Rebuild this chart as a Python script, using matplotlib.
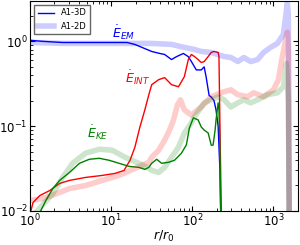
import numpy as np
import matplotlib
matplotlib.use('Agg')
import matplotlib.pyplot as plt

# A1-3D (thin lines)
b3_r = [1.0, 1.44, 2.53, 7.77, 15.7, 19.6, 23.9, 31.6, 39.6, 45.6, 55.5, 63.8, 77.6, 89.3, 97.2,
        112, 129, 140, 148, 161, 171, 185, 196, 208, 219, 226]
b3_y = [1.03, 1.0, 0.97, 0.97, 0.97, 0.92, 0.85, 0.76, 0.72, 0.70, 0.61, 0.66, 0.72, 0.66, 0.58,
        0.46, 0.46, 0.50, 0.38, 0.23, 0.22, 0.20, 0.155, 0.10, 0.03, 0.005]

r3_r = [1.0, 1.09, 1.32, 1.75, 2.32, 3.07, 4.82, 7.77, 11.2, 14.4, 17.1, 19.6, 22.6, 26.0, 29.1,
        31.6, 38.5, 45.6, 55.5, 67.5, 79.8, 89.3, 97.2, 106, 118, 129, 140, 157, 171, 185,
        208, 213, 219, 230]
r3_y = [0.009, 0.0125, 0.0151, 0.0173, 0.021, 0.0228, 0.0247, 0.0261, 0.0276, 0.0299, 0.0394,
        0.0562, 0.0973, 0.155, 0.234, 0.308, 0.353, 0.373, 0.308, 0.291, 0.383, 0.61, 0.70,
        0.663, 0.61, 0.562, 0.578, 0.663, 0.74, 0.76, 0.74, 0.663, 0.103, 0.005]

g3_r = [1.32, 1.57, 1.91, 2.32, 3.07, 4.07, 5.39, 7.14, 9.46, 12.5, 16.6, 21.9, 26.0, 29.1, 31.6,
        36.4, 41.9, 51.0, 60.3, 73.4, 84.5, 92, 103, 118, 129, 140, 157, 171, 180, 191,
        196, 208, 213, 219, 226]
g3_y = [0.0095, 0.0132, 0.0183, 0.0228, 0.0283, 0.0363, 0.0405, 0.0416, 0.0394, 0.0363, 0.0334,
        0.0325, 0.0308, 0.0325, 0.0363, 0.0405, 0.0363, 0.0373, 0.0394, 0.0477, 0.06, 0.0946,
        0.125, 0.118, 0.0973, 0.0896, 0.0826, 0.0594, 0.0594, 0.0896, 0.118, 0.188, 0.155,
        0.0518, 0.005]

# A1-2D (thick, faded lines)
b2_r = [1.0, 2.53, 7.77, 31.6, 55.5, 79.8, 106, 129, 171, 246, 299, 364, 431, 525, 638, 755,
        919, 1119, 1324, 1400, 1482, 1524, 1567]
b2_y = [0.973, 0.946, 0.946, 0.946, 0.921, 0.848, 0.803, 0.760, 0.74, 0.663, 0.645, 0.578,
        0.645, 0.578, 0.61, 0.74, 0.848, 0.946, 1.21, 1.83, 2.83, 2.10, 0.005]

r2_r = [1.0, 1.44, 2.32, 3.07, 4.82, 7.77, 12.5, 19.6, 29.1, 31.6, 38.5, 45.6, 52.4, 58.7, 65.6,
        71.4, 79.8, 97.2, 129, 171, 246, 299, 364, 482, 570, 755, 1000, 1151, 1252, 1362,
        1482, 1524, 1567]
r2_y = [0.0132, 0.0139, 0.0164, 0.0183, 0.0198, 0.0228, 0.0261, 0.0316, 0.0373, 0.0428, 0.0518,
        0.0681, 0.0896, 0.118, 0.178, 0.204, 0.155, 0.135, 0.168, 0.222, 0.254, 0.268, 0.234,
        0.222, 0.247, 0.222, 0.268, 0.353, 0.578, 0.872, 1.28, 0.8, 0.005]

g2_r = [1.18, 1.44, 1.91, 2.53, 3.35, 4.82, 7.14, 10.3, 14.8, 21.9, 29.1, 31.6, 38.5, 45.6, 55.5,
        67.5, 79.8, 97.2, 106, 140, 208, 246, 299, 364, 431, 525, 638, 845, 1119, 1324,
        1442, 1524, 1567]
g2_y = [0.0095, 0.0118, 0.0159, 0.0247, 0.0363, 0.0477, 0.0532, 0.0518, 0.0428, 0.0363, 0.0316,
        0.0299, 0.0283, 0.0325, 0.0428, 0.0562, 0.0826, 0.109, 0.128, 0.188, 0.222, 0.204,
        0.168, 0.188, 0.204, 0.188, 0.204, 0.234, 0.247, 0.291, 0.547, 0.204, 0.005]

fig = plt.figure(figsize=(3.0, 2.45), dpi=100)
ax = fig.add_axes([0.1, 0.14, 0.893, 0.856])

ax.loglog(b3_r, b3_y, color='b', lw=1.0, label='A1-3D')
ax.loglog(r3_r, r3_y, color='r', lw=1.0)
ax.loglog(g3_r, g3_y, color='g', lw=1.0)
ax.loglog(b2_r, b2_y, color='b', lw=4, alpha=0.2, label='A1-2D')
ax.loglog(r2_r, r2_y, color='r', lw=4, alpha=0.2)
ax.loglog(g2_r, g2_y, color='g', lw=4, alpha=0.2)

ax.text(10.3, 1.09, r'$\dot{E}_{EM}$', color='b', fontsize=9)
ax.text(14.8, 0.325, r'$\dot{E}_{INT}$', color='r', fontsize=9)
ax.text(5.1, 0.072, r'$\dot{E}_{KE}$', color='g', fontsize=9)

ax.set_xlim(1, 2000)
ax.set_ylim(0.01, 3.0)
ax.tick_params(which='both', direction='in', top=True, right=True, labelsize=8.5, pad=1.5)
ax.set_xlabel(r'$r/r_0$', fontsize=9, labelpad=0)

ax.legend(loc='upper left', fontsize=6, fancybox=False, edgecolor='0.4', framealpha=1)

fig.savefig('out.png', dpi=100)
